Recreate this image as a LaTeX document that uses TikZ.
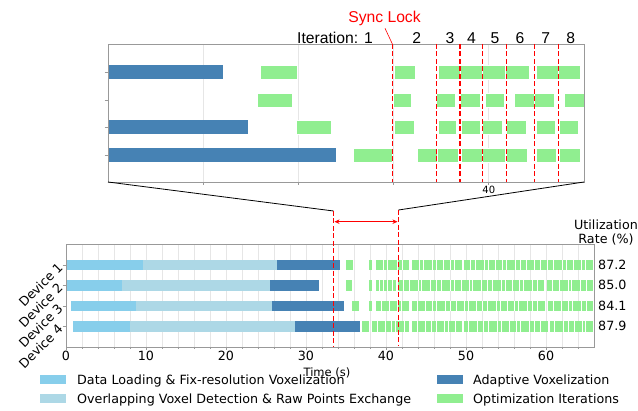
\documentclass[tikz,border=0pt]{standalone}
\usepackage{fontspec}
\setmainfont{DejaVu Sans}
\newfontfamily\arialf{Liberation Sans}
\usetikzlibrary{arrows.meta}
\definecolor{skyb}{HTML}{87CEEB}
\definecolor{lblue}{HTML}{ADD8E6}
\definecolor{steelb}{HTML}{4682B4}
\definecolor{lgreen}{HTML}{90EE90}
\definecolor{spinec}{HTML}{999999}
\definecolor{gridc}{HTML}{E6E6E6}
% bottom plot helpers: t1, t2, row-y, colour
\newcommand\botbar[4]{\fill[#4] ({66+8*#1},{#3-5.25}) rectangle ({66+8*#2},{#3+5.25});}
\newcommand\greenrun[4]{%
  \fill[lgreen] ({66+8*#1},{#3-5.25}) rectangle ({66+8*#2},{#3+5.25});
  \pgfmathtruncatemacro\gN{max(2,round((#2-#1)/0.8))}%
  \pgfmathtruncatemacro\gM{\gN-1}%
  \foreach \k in {1,...,\gM}{%
    \pgfmathsetmacro\gx{#1+(\k+0.22*sin(\k*137+#4))*(#2-#1)/\gN}%
    \draw[white,line width=0.8pt] ({66+8*\gx},{#3-5.25}) -- ({66+8*\gx},{#3+5.25});
  }%
}
% top plot helpers: x1, x2 (px), row-y, colour
\newcommand\topbar[4]{\fill[#4] (#1,{#3-7}) rectangle (#2,{#3+7});}
\newcommand\topgreen[3]{\filldraw[fill=lgreen,draw=white,line width=0.6pt] (#1,{#3-7}) rectangle (#2,{#3+7});}
\begin{document}
\begin{tikzpicture}[x=1pt,y=-1pt,
  txt/.style={font=\fontsize{12.7}{14}\selectfont, inner sep=0pt},
  toptxt/.style={font=\arialf\fontsize{15.7}{18}\selectfont, inner sep=0pt},
  reddash/.style={red, line width=1.2pt, dash pattern=on 5pt off 2.5pt},
  spine/.style={spinec, line width=0.9pt},
  gridl/.style={gridc, line width=0.7pt},
  tickl/.style={spinec, line width=0.7pt}]
\useasboundingbox (0,0) rectangle (638,411);

%================ TOP (zoomed) PLOT =================
\foreach \x in {203.2,298.4,393.6,488.8}{
  \draw[gridl] (\x,44) -- (\x,182);
  \draw[tickl] (\x,182) -- (\x,185);
}
% dark bars
\topbar{108}{222.7}{72}{steelb}
\topbar{108}{247.7}{127.5}{steelb}
\topbar{108}{335.7}{155}{steelb}
% row 1
\topgreen{260}{297}{72}
\topgreen{394.7}{415.7}{72}
\topgreen{438}{460}{72}
\topgreen{460}{482.3}{72}
\topgreen{482.3}{505.3}{72}
\topgreen{505.3}{529}{72}
\topgreen{536.7}{558.3}{72}
\topgreen{558.3}{580}{72}
% row 2
\topgreen{257.7}{292.7}{100}
\topgreen{393.3}{411.7}{100}
\topgreen{436.7}{455}{100}
\topgreen{460.7}{480}{100}
\topgreen{485}{504}{100}
\topgreen{514}{534}{100}
\topgreen{534}{554}{100}
\topgreen{564.3}{584}{100}
% row 3
\topgreen{296.3}{331.7}{127.5}
\topgreen{394}{414}{127.5}
\topgreen{438}{456.7}{127.5}
\topgreen{461}{480}{127.5}
\topgreen{482.7}{502.3}{127.5}
\topgreen{506.7}{526}{127.5}
\topgreen{536.7}{555.7}{127.5}
\topgreen{559}{578}{127.5}
% row 4
\topgreen{353.3}{392.7}{155}
\topgreen{417}{437}{155}
\topgreen{437}{458}{155}
\topgreen{461.3}{482.3}{155}
\topgreen{482.3}{505.3}{155}
\topgreen{506.7}{527}{155}
\topgreen{536.7}{556.7}{155}
\topgreen{559}{580}{155}
% frame
\draw[spine] (108,44) rectangle (584,182);
\foreach \y in {72,100,127.5,155}{\draw[tickl] (104.5,\y) -- (108,\y);}
\node[anchor=north, font=\fontsize{10}{12}\selectfont, inner sep=0pt] (t40) at (488.8,186) {40};
% sync lock lines
\foreach \x in {392.7,436.3,460,482.7,506.3,534.3,558.3}{
  \draw[reddash] (\x,44) -- (\x,182);
}
\node[toptxt, anchor=base, red] (sync) at (384.5,22.7) {Sync Lock};
\coordinate (synctip) at (385,28.3);
\coordinate (syncend) at (392.5,44.3);
\draw[red, line width=0.6pt] (synctip) -- (syncend);
\node[toptxt, anchor=base] (it1) at (335,43.5) {Iteration: 1};
\node[toptxt, anchor=base] (it2) at (416.7,43.5) {2};
\node[toptxt, anchor=base] (it3) at (450,43.5) {3};
\node[toptxt, anchor=base] (it4) at (471.5,43.5) {4};
\node[toptxt, anchor=base] (it5) at (495,43.5) {5};
\node[toptxt, anchor=base] (it6) at (520,43.5) {6};
\node[toptxt, anchor=base] (it7) at (545.7,43.5) {7};
\node[toptxt, anchor=base] (it8) at (570.7,43.5) {8};

%================ BOTTOM PLOT =================
\foreach \t in {2,4,...,64}{
  \draw[gridl] ({66+8*\t},244) -- ({66+8*\t},347);
  \draw[tickl] ({66+8*\t},347) -- ({66+8*\t},349.5);
}
\foreach \t in {0,10,...,60}{
  \draw[tickl] ({66+8*\t},347) -- ({66+8*\t},350.5);
  \node[txt, anchor=base] at ({66+8*\t},361) {\t};
}
% device 1
\botbar{0}{9.6}{265}{skyb}
\botbar{9.6}{26.4}{265}{lblue}
\botbar{26.4}{34.25}{265}{steelb}
\botbar{34.96}{35.84}{265}{lgreen}
\botbar{37.9}{38.3}{265}{lgreen}
\greenrun{38.75}{42.9}{265}{10}
\greenrun{43.3}{49.5}{265}{20}
\greenrun{49.7}{59.2}{265}{30}
\greenrun{59.4}{65.9}{265}{40}
% device 2
\botbar{0}{6.96}{285.5}{skyb}
\botbar{6.96}{25.5}{285.5}{lblue}
\botbar{25.5}{31.65}{285.5}{steelb}
\botbar{35.0}{35.8}{285.5}{lgreen}
\botbar{37.9}{38.3}{285.5}{lgreen}
\botbar{38.7}{39.1}{285.5}{lgreen}
\botbar{39.2}{39.6}{285.5}{lgreen}
\botbar{39.7}{40.1}{285.5}{lgreen}
\greenrun{40.3}{41.2}{285.5}{50}
\greenrun{41.45}{59.8}{285.5}{60}
\greenrun{60.1}{65.9}{285.5}{70}
% device 3
\botbar{0.67}{8.7}{306}{skyb}
\botbar{8.7}{25.7}{306}{lblue}
\botbar{25.7}{34.8}{306}{steelb}
\botbar{35.8}{36.6}{306}{lgreen}
\botbar{37.9}{38.3}{306}{lgreen}
\greenrun{38.75}{42.9}{306}{80}
\greenrun{43.3}{59.9}{306}{90}
\greenrun{60.3}{65.9}{306}{100}
% device 4
\botbar{0.875}{8.0}{326.5}{skyb}
\botbar{8.0}{28.6}{326.5}{lblue}
\botbar{28.6}{36.7}{326.5}{steelb}
\botbar{36.96}{37.9}{326.5}{lgreen}
\greenrun{38.3}{42.9}{326.5}{110}
\greenrun{43.3}{49.5}{326.5}{120}
\greenrun{49.7}{60.2}{326.5}{130}
\greenrun{60.5}{65.9}{326.5}{140}
% frame and y ticks
\draw[spine] (66,244) rectangle (594,347);
\foreach \y/\n in {265/1,285.5/2,306/3,326.5/4}{
  \draw[tickl] (62.5,\y) -- (66,\y);
  \node[txt, rotate=45, anchor=east] (dev\n) at (60.5,\y) {Device \n};
}
% utilization
\node[txt, anchor=base] (ut1) at (606,229.5) {Utilization};
\node[txt, anchor=base] (ut2) at (606,243.5) {Rate (\%)};
\node[txt, anchor=base west] (u1) at (598,269.5) {87.2};
\node[txt, anchor=base west] (u2) at (598,290) {85.0};
\node[txt, anchor=base west] (u3) at (598,310.5) {84.1};
\node[txt, anchor=base west] (u4) at (598,331) {87.9};
% axis label
\node[txt, anchor=base, font=\fontsize{11.5}{13}\selectfont] (xl) at (327,376.5) {Time (s)};

%================ ZOOM CONNECTORS =================
\coordinate (zl) at (108,182);
\coordinate (zr) at (584,182);
\coordinate (bl) at (333.5,211);
\coordinate (br) at (398.5,210);
\coordinate (bl2) at (333.5,347);
\coordinate (br2) at (398.5,346);
\draw[black, line width=0.8pt] (zl) -- (bl);
\draw[black, line width=0.8pt] (zr) -- (br);
\draw[reddash] (bl) -- (bl2);
\draw[reddash] (br) -- (br2);
\coordinate (al) at (334.5,221.7);
\coordinate (ar) at (397.5,221.7);
\draw[red, line width=1.2pt, {Stealth[length=5pt,width=4.5pt]}-{Stealth[length=5pt,width=4.5pt]}] (al) -- (ar);

%================ LEGEND =================
\fill[skyb] (40,375.3) rectangle (66,384.3);
\node[txt, anchor=base west] (lg1) at (77,385) {Data Loading \& Fix-resolution Voxelization};
\fill[lblue] (40,394.3) rectangle (66,403.3);
\node[txt, anchor=base west] (lg2) at (77,404) {Overlapping Voxel Detection \& Raw Points Exchange};
\fill[steelb] (437,375.3) rectangle (463,384.3);
\node[txt, anchor=base west] (lg3) at (473,385) {Adaptive Voxelization};
\fill[lgreen] (437,394.3) rectangle (463,403.3);
\node[txt, anchor=base west] (lg4) at (473,404) {Optimization Iterations};
\end{tikzpicture}
\end{document}
